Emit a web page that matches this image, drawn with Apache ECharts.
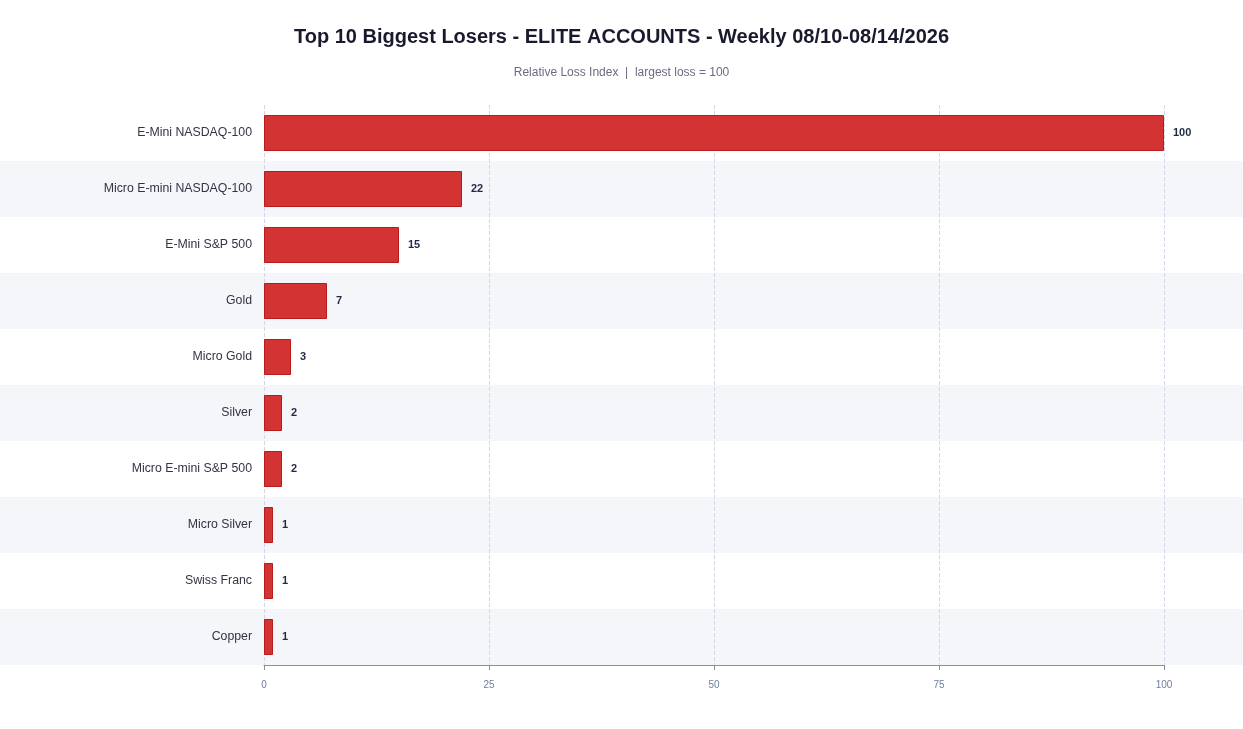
<!DOCTYPE html>
<html>
<head>
<meta charset="utf-8">
<script src="https://cdn.jsdelivr.net/npm/echarts@6/dist/echarts.min.js"></script>
<style>
html,body{margin:0;padding:0;background:#fff;}
#chart{width:1243px;height:729px;}
</style>
</head>
<body>
<div id="chart"></div>
<script>
const categories = ["E-Mini NASDAQ-100","Micro E-mini NASDAQ-100","E-Mini S&P 500","Gold","Micro Gold","Silver","Micro E-mini S&P 500","Micro Silver","Swiss Franc","Copper"];
const lossIndex = [100, 22, 15, 7, 3, 2, 2, 1, 1, 1];
const xTicks = [0, 25, 50, 75, 100];
const titleText = "Top 10 Biggest Losers - ELITE ACCOUNTS - Weekly 08/10-08/14/2026";
const subtitleText = "Relative Loss Index  |  largest loss = 100";

const chart = echarts.init(document.getElementById('chart'), null, {renderer:'canvas'});
const option = {
  backgroundColor: '#ffffff',
  animation: false,
  title: {
    text: titleText,
    subtext: subtitleText,
    left: 'center',
    top: 22,
    itemGap: 20,
    textStyle: {fontFamily: 'Liberation Sans, Arial, sans-serif', fontSize: 20, fontWeight: 'bold', color: '#1a1a2e'},
    subtextStyle: {fontFamily: 'Liberation Sans, Arial, sans-serif', fontSize: 12, color: '#6b6b80'}
  },
  grid: [
    {left: 264, right: 79, top: 105, height: 560, containLabel: false},
    {left: 0, right: 0, top: 105, height: 560, containLabel: false}
  ],
  xAxis: [
    {
      gridIndex: 0, type: 'value', min: xTicks[0], max: xTicks[xTicks.length-1], interval: 25,
      axisLine: {show: true, lineStyle: {color: '#8a8fa0', width: 1}},
      axisTick: {show: true, length: 5, lineStyle: {color: '#8a8fa0'}},
      axisLabel: {color: '#6e7f9e', fontSize: 10, margin: 15, fontFamily: 'Liberation Sans, Arial, sans-serif'},
      splitLine: {show: true, lineStyle: {color: '#d3d6e6', type: 'dashed', width: 1}}
    },
    {
      gridIndex: 1, type: 'value', min: 0, max: 1, show: false
    }
  ],
  yAxis: [
    {
      gridIndex: 0, type: 'category', data: categories, inverse: true,
      axisLine: {show: false}, axisTick: {show: false},
      axisLabel: {color: '#333344', fontSize: 12.3, margin: 12, padding: [4, 0, 0, 0], fontFamily: 'Liberation Sans, Arial, sans-serif'},
      splitArea: {show: false}
    },
    {
      gridIndex: 1, type: 'category', data: categories, inverse: true, z: -1,
      axisLine: {show: false}, axisTick: {show: false}, axisLabel: {show: false},
      splitLine: {show: false},
      splitArea: {show: true, areaStyle: {color: ['rgba(255,255,255,0)', '#f5f6fa']}}
    }
  ],
  series: [{
    type: 'bar',
    xAxisIndex: 0, yAxisIndex: 0,
    data: lossIndex,
    barWidth: 36,
    itemStyle: {color: '#d33333', borderColor: '#b71c1c', borderWidth: 1},
    label: {
      show: true, position: 'right', distance: 9,
      padding: [4, 0, 0, 0],
      color: '#1f2a44', fontWeight: 'bold', fontSize: 11,
      fontFamily: 'Liberation Sans, Arial, sans-serif'
    }
  }]
};
chart.setOption(option);
</script>
</body>
</html>
